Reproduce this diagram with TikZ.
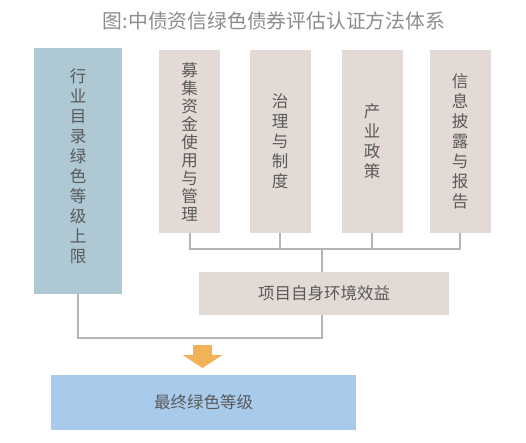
\documentclass[tikz,border=0pt]{standalone}
\usepackage{fontspec}
\setmainfont{Noto Sans CJK SC}
\definecolor{boxblue}{HTML}{AEC8D4}
\definecolor{boxbeige}{HTML}{E3DAD6}
\definecolor{finalblue}{HTML}{A9CBEB}
\definecolor{linegray}{HTML}{B5B5B5}
\definecolor{txt}{HTML}{5A5A5A}
\definecolor{titlegray}{HTML}{8C8C8C}
\definecolor{arrowor}{HTML}{F0B357}
\tikzset{
  base/.style={draw=none, inner sep=0pt, text=txt, align=center, font=\fontsize{16.5}{20}\selectfont},
  vbox/.style={base, fill=boxbeige, minimum width=61pt, minimum height=183pt},
  conn/.style={draw=linegray, line width=2pt},
}
\begin{document}
\begin{tikzpicture}[x=1pt, y=-1pt]
\useasboundingbox (0,0) rectangle (526,442);
\node[text=titlegray, font=\fontsize{19.8}{22}\selectfont, inner sep=0pt] (title) at (274,21) {图:中债资信绿色债券评估认证方法体系};
\node[base, fill=boxblue, minimum width=88pt, minimum height=246pt] (left) at (78,171) {};
\node[base] at (78,166.5) {行\\业\\目\\录\\绿\\色\\等\\级\\上\\限};
\node[vbox, font=\fontsize{16.5}{18}\selectfont] (b1) at (189.5,141.5) {募\\集\\资\\金\\使\\用\\与\\管\\理};
\node[vbox] (b2) at (280,141.5) {治\\理\\与\\制\\度};
\node[vbox] (b3) at (372,141.5) {产\\业\\政\\策};
\node[vbox] (b4) at (460,141.5) {信\\息\\披\\露\\与\\报\\告};
\node[base, fill=boxbeige, minimum width=250pt, minimum height=43pt] (env) at (324,293.5) {项目自身环境效益};
\node[base, fill=finalblue, minimum width=305pt, minimum height=55pt] (final) at (203.5,402.5) {最终绿色等级};
\coordinate (j) at (322,249);
\coordinate (k) at (322,338);
\draw[conn] (b1.south) -- (b1.south |- j) -- (b4.south |- j) -- (b4.south);
\draw[conn] (b2.south) -- (b2.south |- j);
\draw[conn] (b3.south) -- (b3.south |- j);
\draw[conn] (j) -- (j |- env.north);
\draw[conn] (k |- env.south) -- (k) -- (left.south |- k) -- (left.south);
\fill[arrowor] (193,345) -- (212,345) -- (212,355) -- (222.5,355) -- (202.5,368) -- (182.5,355) -- (193,355) -- cycle;
\end{tikzpicture}
\end{document}
